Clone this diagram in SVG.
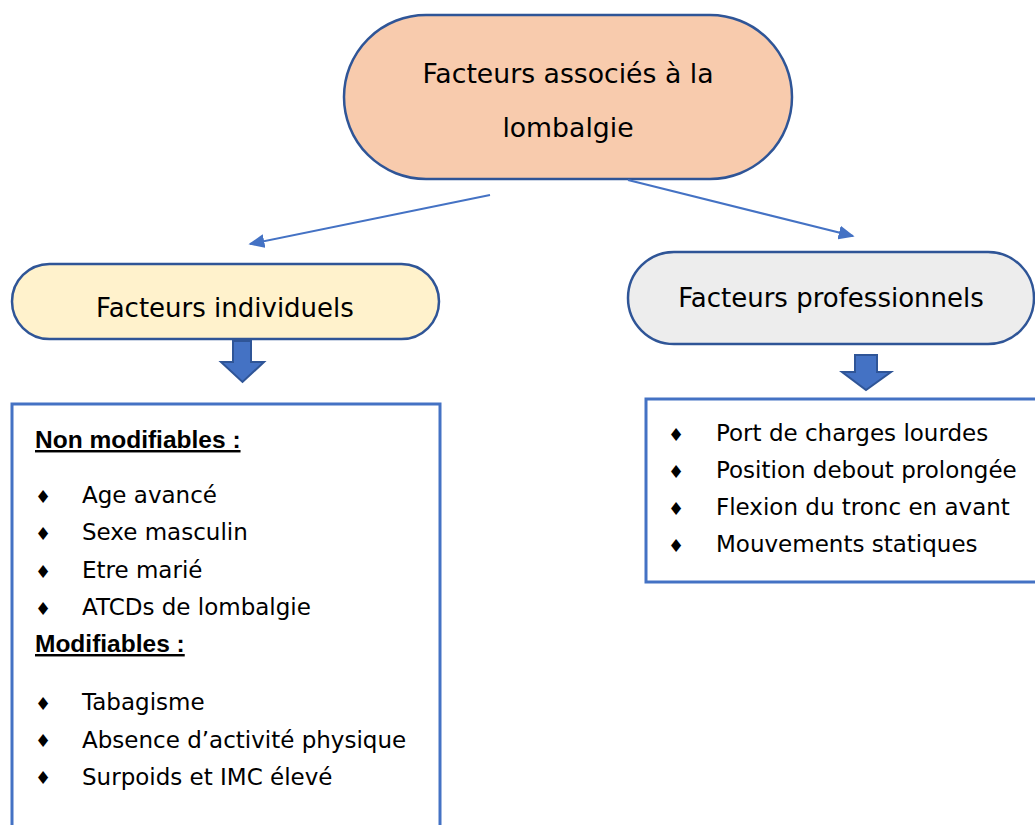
<svg xmlns="http://www.w3.org/2000/svg" width="1035" height="825" viewBox="0 0 1035 825">
  <style>
    text { font-family: "DejaVu Sans", "Verdana", sans-serif; fill: #000; }
    .t { font-size: 26px; }
    .t0 { font-size: 26.7px; }
    .li { font-size: 23px; }
    .h { font-family: "Liberation Sans", Arial, sans-serif; font-size: 24.5px; font-weight: bold; text-decoration: underline; }
    .b { font-size: 18px; }
    .pill { stroke: #2F5597; stroke-width: 2.5; }
    .box { fill: #fff; stroke: #4472C4; stroke-width: 3; }
    .blk { fill: #4472C4; stroke: #2F5597; stroke-width: 2; }
    .conn { stroke: #4472C4; stroke-width: 2; fill: none; }
  </style>
  <defs>
    <marker id="ah" viewBox="0 0 10 10" refX="9" refY="5" markerWidth="16" markerHeight="14" markerUnits="userSpaceOnUse" orient="auto" preserveAspectRatio="none">
      <path d="M0,0 L10,5 L0,10 z" fill="#4472C4"/>
    </marker>
  </defs>
  <rect width="1035" height="825" fill="#fff"/>

  <g id="root">
    <rect class="pill" x="344" y="15" width="448" height="164" rx="82" ry="82" fill="#F8CBAD"/>
    <text class="t0" x="568" y="83" text-anchor="middle">Facteurs associés à la</text>
    <text class="t0" x="568" y="137" text-anchor="middle">lombalgie</text>
  </g>

  <g id="connectors">
    <path class="conn" d="M490,195 L250,244" marker-end="url(#ah)"/>
    <path class="conn" d="M628,180 L853,236" marker-end="url(#ah)"/>
  </g>

  <g id="individuels">
    <rect class="pill" x="12" y="264" width="427" height="75" rx="37.5" ry="37.5" fill="#FFF2CC"/>
    <text class="t" x="225" y="317" text-anchor="middle">Facteurs individuels</text>
    <path class="blk" d="M233,341 H251 V362 H264 L242.5,382 L221,362 H233 Z"/>
  </g>

  <g id="professionnels">
    <rect class="pill" x="628" y="252" width="406" height="92" rx="46" ry="46" fill="#EDEDED"/>
    <text class="t" x="831" y="307" text-anchor="middle">Facteurs professionnels</text>
    <path class="blk" d="M855,355 H877 V372 H891 L866,390 L842,372 H855 Z"/>
  </g>

  <g id="liste-individuels">
    <rect class="box" x="12" y="404" width="428" height="440"/>
    <text class="h" x="35" y="448">Non modifiables :</text>
    <text class="b" x="35" y="503">♦</text>
    <text class="b" x="35" y="540">♦</text>
    <text class="b" x="35" y="578">♦</text>
    <text class="b" x="35" y="615">♦</text>
    <text class="b" x="35" y="710">♦</text>
    <text class="b" x="35" y="747">♦</text>
    <text class="b" x="35" y="784">♦</text>
    <text class="li" x="82" y="503">Age avancé</text>
    <text class="li" x="82" y="540">Sexe masculin</text>
    <text class="li" x="82" y="578">Etre marié</text>
    <text class="li" x="82" y="615">ATCDs de lombalgie</text>
    <text class="h" x="35" y="652">Modifiables :</text>
    <text class="li" x="82" y="710">Tabagisme</text>
    <text class="li" x="82" y="748">Absence d’activité physique</text>
    <text class="li" x="82" y="785">Surpoids et IMC élevé</text>
  </g>

  <g id="liste-professionnels">
    <rect class="box" x="646" y="399" width="400" height="183"/>
    <text class="b" x="668" y="441">♦</text>
    <text class="b" x="668" y="478">♦</text>
    <text class="b" x="668" y="515">♦</text>
    <text class="b" x="668" y="552">♦</text>
    <text class="li" x="716" y="441">Port de charges lourdes</text>
    <text class="li" x="716" y="478">Position debout prolongée</text>
    <text class="li" x="716" y="515">Flexion du tronc en avant</text>
    <text class="li" x="716" y="552">Mouvements statiques</text>
  </g>
</svg>
